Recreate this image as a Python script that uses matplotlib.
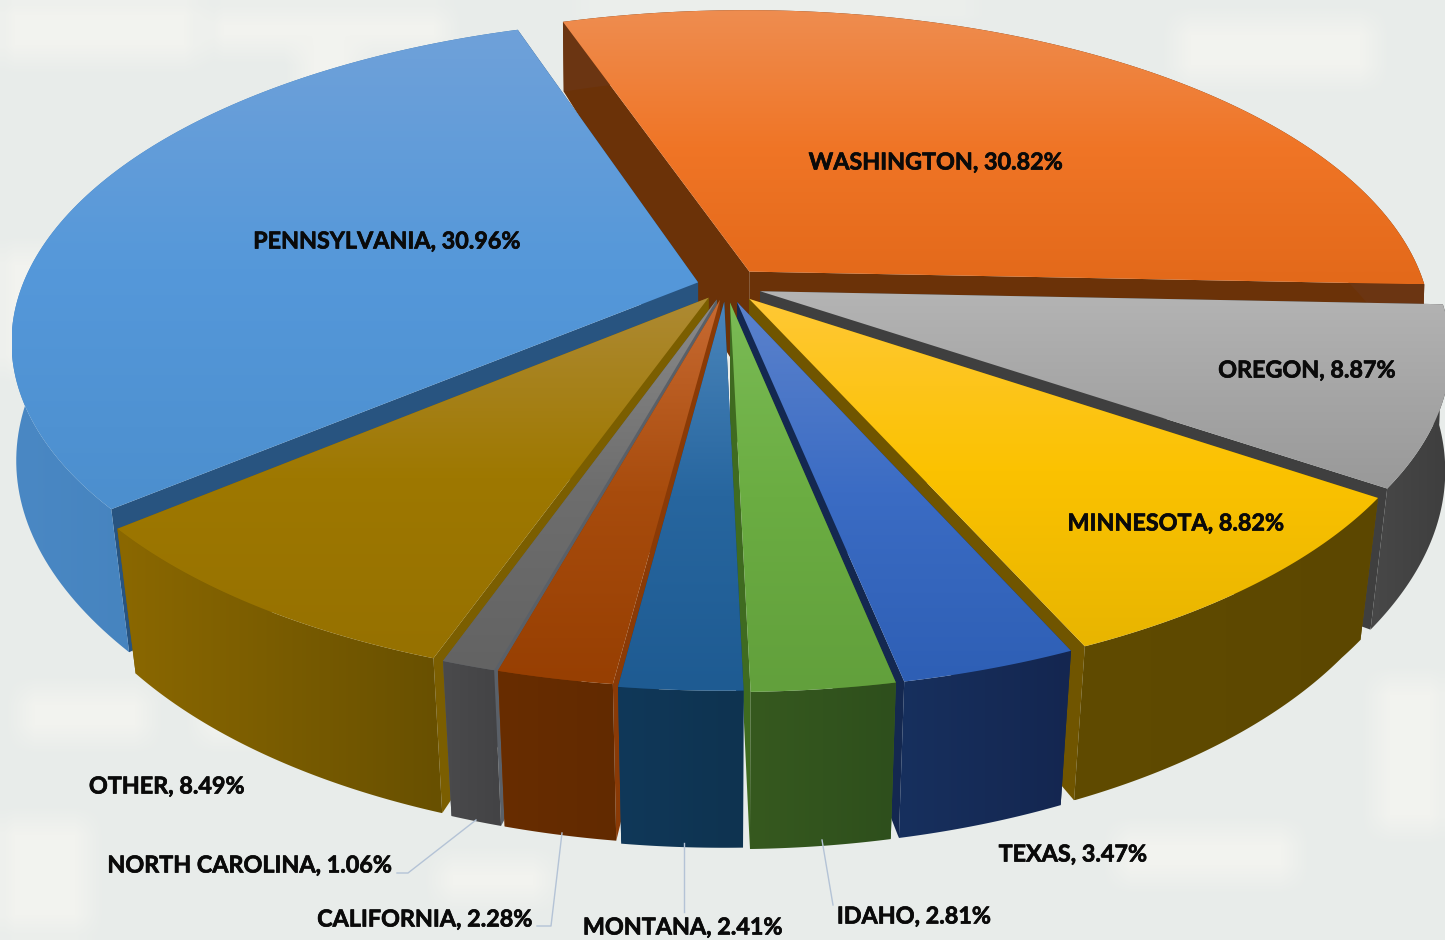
#!/usr/bin/env python

import numpy as np
import matplotlib
matplotlib.use('Agg')
import matplotlib.pyplot as plt
import matplotlib.patheffects as pe
from matplotlib.colors import LinearSegmentedColormap
from matplotlib.patches import Polygon

plt.rcParams['font.family'] = ['Lato', 'DejaVu Sans']

# slices, clockwise from the first slice angle
states = ['WASHINGTON', 'OREGON', 'MINNESOTA', 'TEXAS', 'IDAHO', 'MONTANA',
          'CALIFORNIA', 'NORTH CAROLINA', 'OTHER', 'PENNSYLVANIA']
shares = [30.82, 8.87, 8.82, 3.47, 2.81, 2.41, 2.28, 1.06, 8.49, 30.96]

# how far each slice is pulled out of the pie
explode = [0.058, 0.053, 0.053, 0.053, 0.053, 0.05, 0.045, 0.045, 0.045, 0.043]

# top face gradient (upper, middle, lower), outer wall and radial wall colours
top_colors = [
    ('#EE8D50', '#F07526', '#E3691A'),
    ('#B4B4B4', '#A6A6A6', '#999999'),
    ('#FFC835', '#FBC200', '#E8B500'),
    ('#5B82CC', '#3B6CC4', '#2E5FB5'),
    ('#7ABB55', '#6BAD42', '#62A03C'),
    ('#4A85BB', '#27669F', '#1E5B92'),
    ('#C86A32', '#A84C0D', '#973F02'),
    ('#8A8A8A', '#6E6E6E', '#636363'),
    ('#AE8A33', '#9E7800', '#967100'),
    ('#6FA1D9', '#5598DA', '#4C8FCE'),
]
wall_colors = [
    ('#6B3512', '#6B3512'),
    ('#484848', '#3E3E3E'),
    ('#604B00', '#5C4700'),
    ('#17305E', '#142650'),
    ('#36591F', '#2E4F1C'),
    ('#103859', '#0E3350'),
    ('#682D01', '#622A00'),
    ('#4A4A4C', '#434345'),
    ('#8B6800', '#685000'),
    ('#4A88C4', '#3A76AE'),
]
radial_colors = ['#6B3208', '#3F3F3F', '#705500', '#142850', '#3F6B20',
                 '#10406C', '#8A3A06', '#5A6068', '#7B5E00', '#285480']

CX, CY = 726, 286
RX, RY = 676, 313
PERSP = 0.179
START = -18.6


def project(u, v, depth=0.0):
    # u to the right, v towards the viewer, depth 1 is the bottom of the pie
    s = 1.0 / (1.0 - PERSP * v)
    front = np.clip(v, 0.0, None)
    shrink = np.minimum(0.005 + 0.06 * front * front, 0.03)
    x = RX * u * s * (1.0 - depth * shrink)
    y = RY * v * s + depth * (118.0 + 43.0 * v - 5.5 * v * v)
    return CX + x, CY + y


def shade(ax, xy, colors, vertical, z):
    # gradient image clipped to a polygon
    xmin, ymin = xy.min(axis=0)
    xmax, ymax = xy.max(axis=0)
    cmap = LinearSegmentedColormap.from_list('g', colors)
    grad = np.linspace(0, 1, 128)
    grad = grad[:, None] if vertical else grad[None, :]
    im = ax.imshow(grad, cmap=cmap, extent=(xmin, xmax, ymax, ymin),
                   aspect='auto', zorder=z, interpolation='bilinear')
    patch = Polygon(xy, closed=True, transform=ax.transData, fc='none', ec='none')
    ax.add_patch(patch)
    im.set_clip_path(patch)


def wall(arc, du, dv):
    u = du + np.sin(arc)
    v = dv - np.cos(arc)
    xa, ya = project(u, v, 0.0)
    xb, yb = project(u[::-1], v[::-1], 1.0)
    return np.column_stack([np.r_[xa, xb], np.r_[ya, yb]])


def draw_slice(ax, a0, a1, idx, z):
    mid = 0.5 * (a0 + a1)
    du = explode[idx] * np.sin(mid)
    dv = -explode[idx] * np.cos(mid)
    arc = np.linspace(a0, a1, 120)

    # radial walls
    for edge in (a0, a1):
        px = np.array([du, du + np.sin(edge)])
        py = np.array([dv, dv - np.cos(edge)])
        xt, yt = project(px, py)
        xb, yb = project(px[::-1], py[::-1], 1.0)
        ax.add_patch(Polygon(np.column_stack([np.r_[xt, xb], np.r_[yt, yb]]),
                             closed=True, fc=radial_colors[idx], ec='none', zorder=z))

    # outer wall
    shade(ax, wall(arc, du, dv), wall_colors[idx], False, z + 0.1)

    # top
    xr, yr = project(du + np.sin(arc), dv - np.cos(arc))
    xc, yc = project(np.array([du]), np.array([dv]))
    top = np.column_stack([np.r_[xc, xr], np.r_[yc, yr]])
    shade(ax, top, top_colors[idx], True, z + 0.2)


fig = plt.figure(figsize=(14.45, 9.4), dpi=100, facecolor='#E9EDEB')
ax = fig.add_axes([0, 0, 1, 1])
ax.set_axis_off()

# faint washed out photo behind the chart, blurred patches on a grey ground
bg = np.zeros((94, 145))
for x, y, w, h in [(0, 0, 20, 6), (21, 1, 24, 4), (58, 0, 40, 1), (0, 25, 6, 12),
                   (2, 69, 13, 5), (20, 70, 9, 4), (118, 2, 20, 6), (112, 83, 18, 5),
                   (44, 86, 11, 4), (138, 68, 7, 15), (0, 82, 9, 11), (30, 2, 6, 10)]:
    bg[y:y + h, x:x + w] = 1.0
kernel = np.ones(3) / 3.0
for axis in (0, 1):
    bg = np.apply_along_axis(lambda row: np.convolve(row, kernel, mode='same'), axis, bg)
bg_cmap = LinearSegmentedColormap.from_list('bg', ['#E8ECEA', '#F2F3EF'])
ax.imshow(bg, cmap=bg_cmap, extent=(0, 1445, 940, 0), aspect='auto', zorder=0,
          interpolation='bilinear', vmin=0, vmax=1)

cum = START + np.cumsum(np.r_[0, shares]) * 3.6
edges = np.deg2rad(cum)
mids = 0.5 * (edges[:-1] + edges[1:])
order = np.argsort(-np.cos(mids))
for rank, i in enumerate(order):
    draw_slice(ax, edges[i], edges[i + 1], i, 1 + rank)

# labels
label_pos = [(936, 163), (1307, 371), (1176, 524), (1073, 855), (914, 917),
             (683, 928), (425, 920), (250, 866), (167, 787), (387, 242)]
for name, pct, (lx, ly) in zip(states, shares, label_pos):
    ax.text(lx, ly, f'{name}, {pct:.2f}%', ha='center', va='center',
            fontsize=16.8, fontweight='bold', color='#0A0A0A', zorder=40,
            path_effects=[pe.withStroke(linewidth=0.5, foreground='#0A0A0A')])

# leader lines
leaders = [([397, 408, 476], [873, 873, 820]),
           ([537, 551, 562], [926, 926, 833]),
           ([684, 684], [912, 843]),
           ([833, 822], [905, 840])]
for lx, ly in leaders:
    ax.plot(lx, ly, color='#B4C3D6', lw=1.0, zorder=39)

ax.set_xlim(0, 1445)
ax.set_ylim(940, 0)
fig.savefig('out.png', dpi=100)
